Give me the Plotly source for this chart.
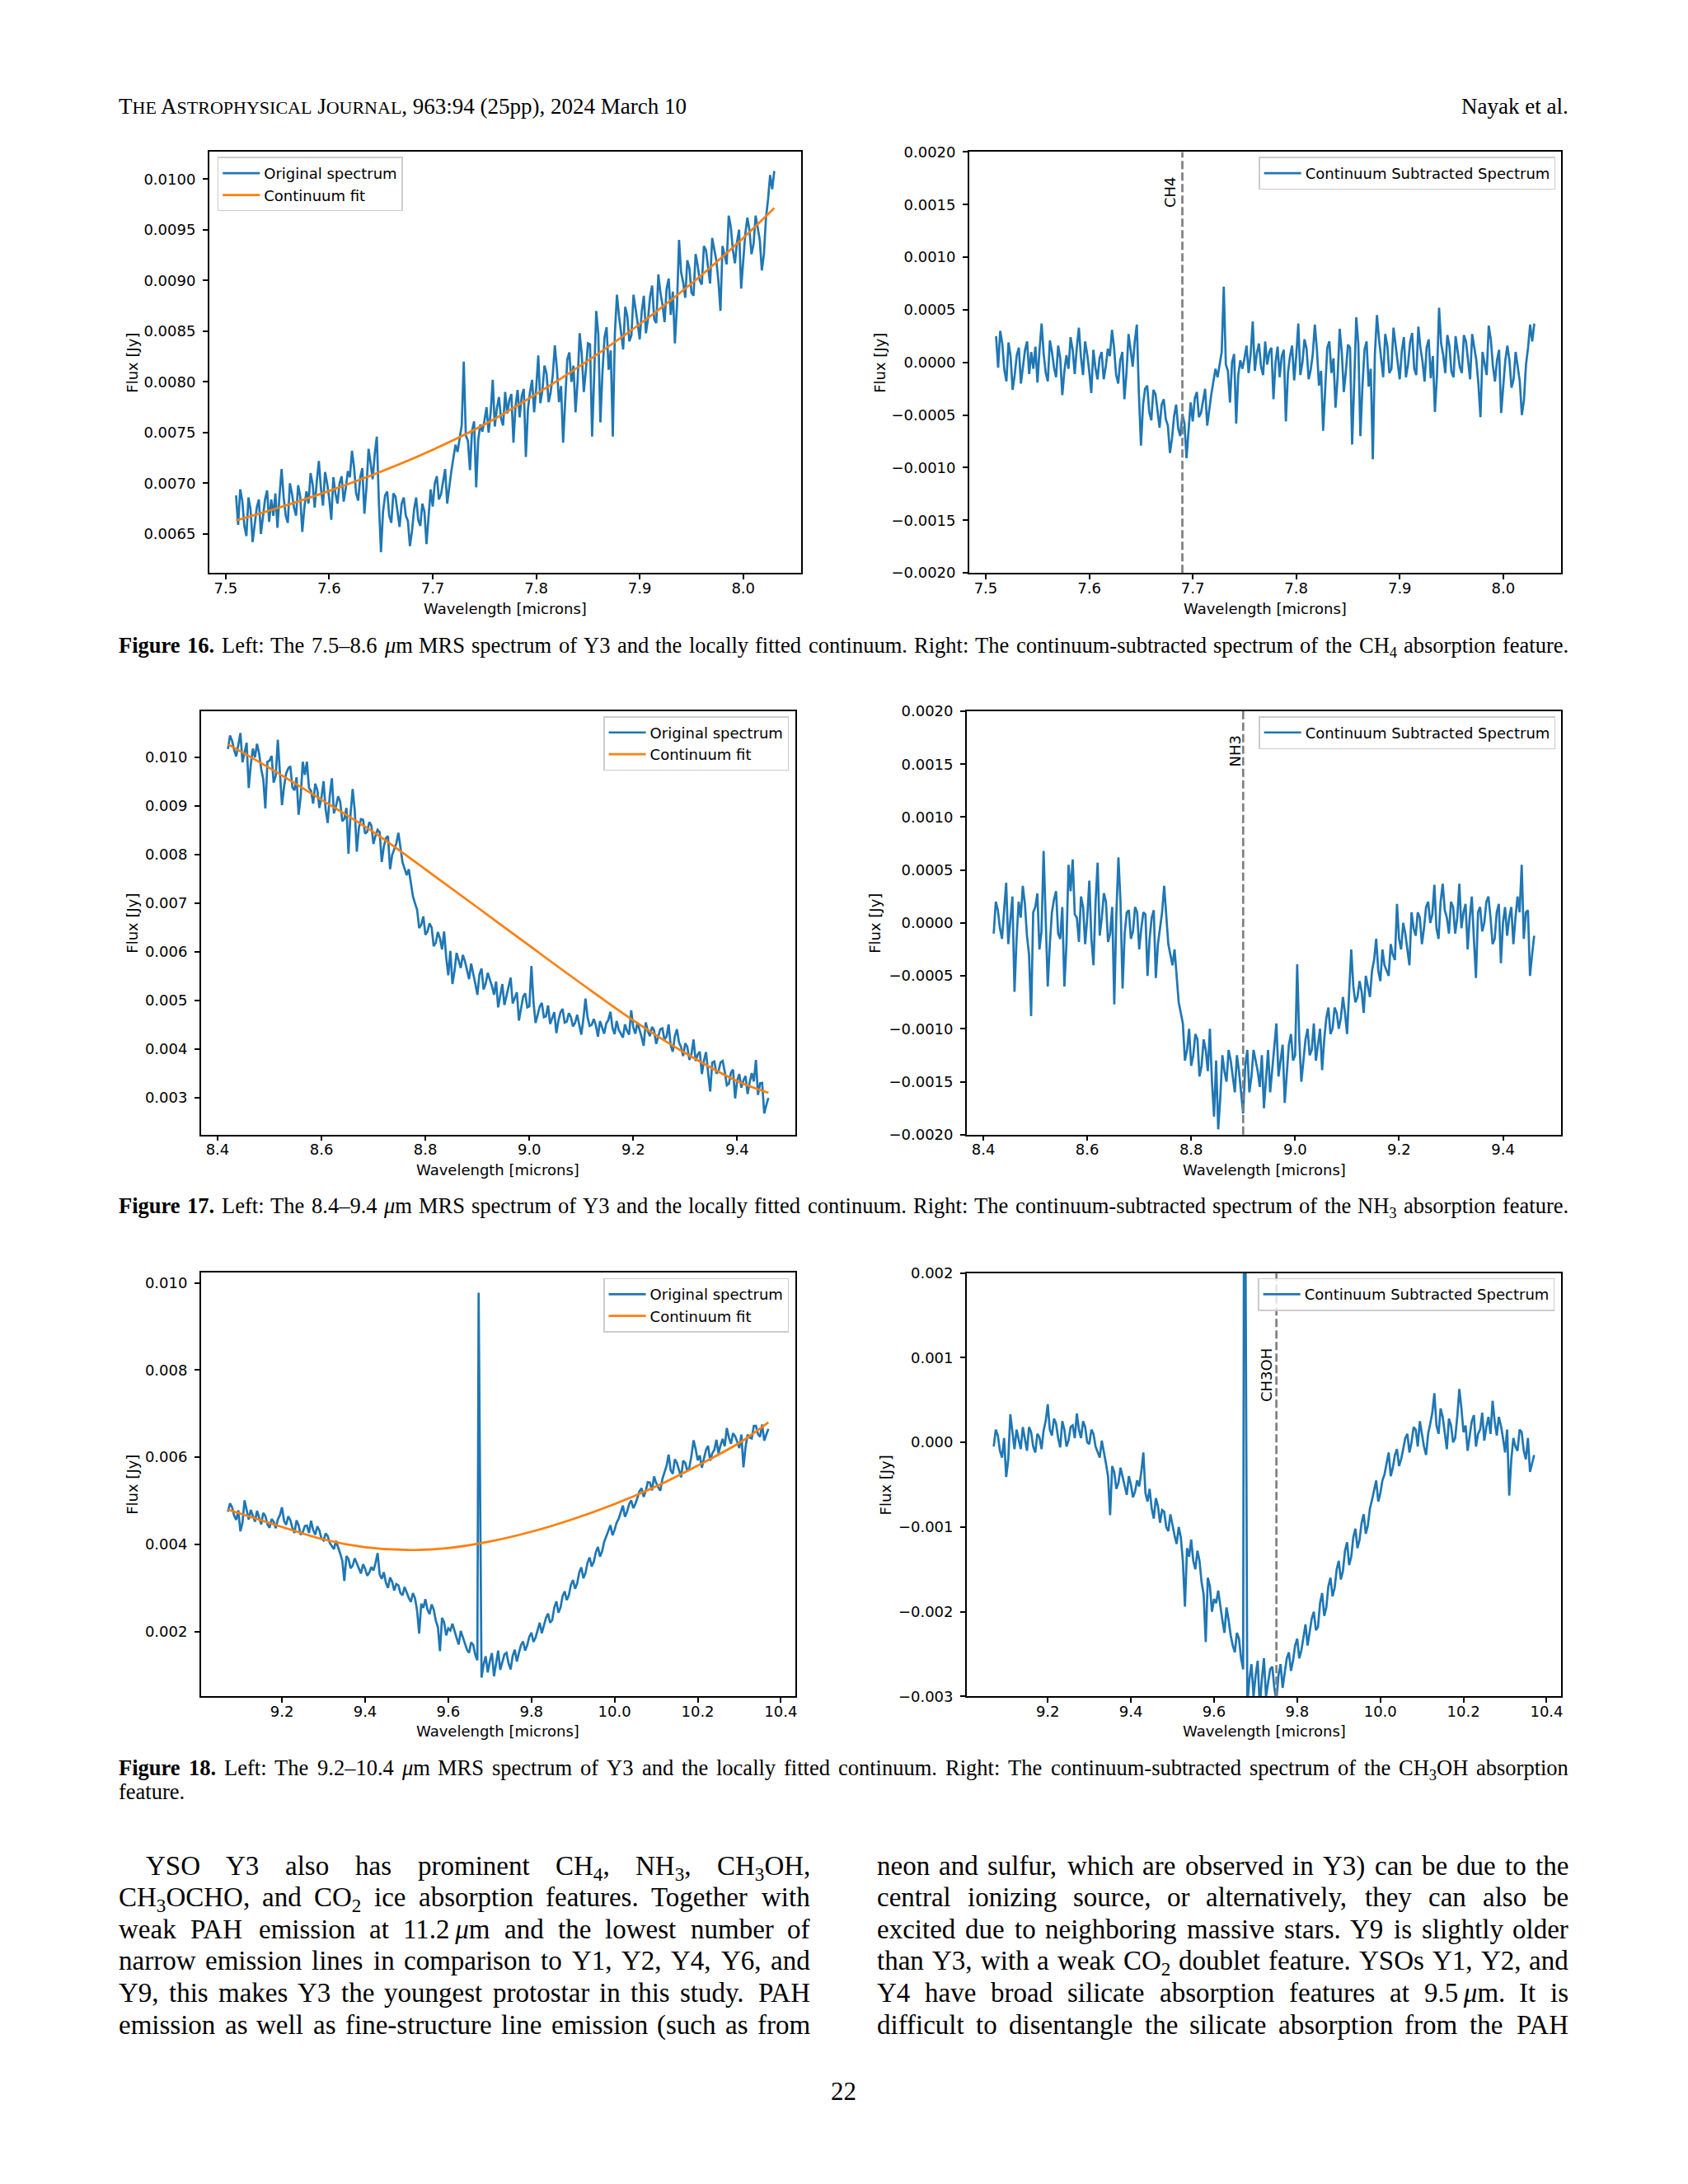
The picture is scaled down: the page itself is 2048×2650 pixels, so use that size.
import plotly.graph_objects as go

# ---------------------------------------------------------------- data
# Figure 16 (CH4 region): wavelength [micron], flux [Jy], continuum-subtracted flux [Jy]
wl16 = [7.510,7.512,7.514,7.516,7.518,7.520,7.522,7.524,7.526,7.528,7.530,7.532,7.534,7.536,7.538,7.540,7.542,7.544,7.546,7.548,
        7.550,7.552,7.554,7.556,7.558,7.560,7.562,7.564,7.566,7.568,7.570,7.572,7.574,7.576,7.578,7.580,7.582,7.584,7.586,7.588,
        7.590,7.592,7.594,7.596,7.598,7.600,7.602,7.604,7.606,7.608,7.610,7.612,7.614,7.616,7.618,7.620,7.622,7.624,7.626,7.628,
        7.630,7.632,7.634,7.636,7.638,7.640,7.642,7.644,7.646,7.648,7.650,7.652,7.654,7.656,7.658,7.660,7.662,7.664,7.666,7.668,
        7.670,7.672,7.674,7.676,7.678,7.680,7.682,7.684,7.686,7.688,7.690,7.692,7.694,7.696,7.698,7.700,7.702,7.704,7.706,7.708,
        7.710,7.712,7.714,7.716,7.718,7.720,7.722,7.724,7.726,7.728,7.730,7.732,7.734,7.736,7.738,7.740,7.742,7.744,7.746,7.748,
        7.750,7.752,7.754,7.756,7.758,7.760,7.762,7.764,7.766,7.768,7.770,7.772,7.774,7.776,7.778,7.780,7.782,7.784,7.786,7.788,
        7.790,7.792,7.794,7.796,7.798,7.800,7.802,7.804,7.806,7.808,7.810,7.812,7.814,7.816,7.818,7.820,7.822,7.824,7.826,7.828,
        7.830,7.832,7.834,7.836,7.838,7.840,7.842,7.844,7.846,7.848,7.850,7.852,7.854,7.856,7.858,7.860,7.862,7.864,7.866,7.868,
        7.870,7.872,7.874,7.876,7.878,7.880,7.882,7.884,7.886,7.888,7.890,7.892,7.894,7.896,7.898,7.900,7.902,7.904,7.906,7.908,
        7.910,7.912,7.914,7.916,7.918,7.920,7.922,7.924,7.926,7.928,7.930,7.932,7.934,7.936,7.938,7.940,7.942,7.944,7.946,7.948,
        7.950,7.952,7.954,7.956,7.958,7.960,7.962,7.964,7.966,7.968,7.970,7.972,7.974,7.976,7.978,7.980,7.982,7.984,7.986,7.988,
        7.990,7.992,7.994,7.996,7.998,8.000,8.002,8.004,8.006,8.008,8.010,8.012,8.014,8.016,8.018,8.020,8.022,8.024,8.026,8.028,
        8.030]
flux16 = [0.00688,0.00659,0.00694,0.00683,0.00658,0.00648,0.00686,0.00674,0.00642,0.00657,0.00676,0.00684,0.00650,0.00667,0.00684,0.00693,0.00662,0.00684,0.00668,0.00690,
          0.00656,0.00688,0.00714,0.00686,0.00668,0.00661,0.00700,0.00690,0.00676,0.00668,0.00698,0.00687,0.00652,0.00676,0.00692,0.00680,0.00710,0.00699,0.00676,0.00702,
          0.00722,0.00695,0.00678,0.00711,0.00700,0.00685,0.00664,0.00706,0.00690,0.00680,0.00700,0.00707,0.00682,0.00695,0.00712,0.00706,0.00732,0.00716,0.00690,0.00683,
          0.00706,0.00715,0.00670,0.00696,0.00734,0.00720,0.00704,0.00729,0.00746,0.00681,0.00632,0.00672,0.00688,0.00692,0.00668,0.00661,0.00690,0.00687,0.00672,0.00657,
          0.00680,0.00686,0.00668,0.00663,0.00638,0.00653,0.00674,0.00686,0.00664,0.00658,0.00680,0.00672,0.00640,0.00666,0.00694,0.00677,0.00700,0.00707,0.00684,0.00689,
          0.00702,0.00714,0.00680,0.00697,0.00712,0.00725,0.00738,0.00731,0.00746,0.00757,0.00820,0.00747,0.00742,0.00713,0.00752,0.00761,0.00696,0.00743,0.00758,0.00751,
          0.00762,0.00775,0.00750,0.00770,0.00802,0.00756,0.00774,0.00785,0.00764,0.00757,0.00790,0.00769,0.00782,0.00788,0.00740,0.00776,0.00792,0.00765,0.00786,0.00793,
          0.00726,0.00773,0.00790,0.00802,0.00770,0.00794,0.00826,0.00779,0.00792,0.00816,0.00808,0.00780,0.00790,0.00807,0.00836,0.00813,0.00780,0.00796,0.00740,0.00787,
          0.00822,0.00829,0.00800,0.00816,0.00770,0.00801,0.00848,0.00827,0.00790,0.00812,0.00838,0.00837,0.00746,0.00806,0.00870,0.00847,0.00760,0.00809,0.00844,0.00854,
          0.00812,0.00831,0.00746,0.00848,0.00886,0.00865,0.00850,0.00832,0.00874,0.00865,0.00840,0.00846,0.00886,0.00873,0.00858,0.00842,0.00870,0.00885,0.00848,0.00862,
          0.00884,0.00895,0.00862,0.00858,0.00906,0.00888,0.00876,0.00859,0.00892,0.00902,0.00866,0.00889,0.00838,0.00875,0.00940,0.00908,0.00898,0.00883,0.00920,0.00912,
          0.00888,0.00885,0.00926,0.00915,0.00900,0.00896,0.00934,0.00930,0.00912,0.00897,0.00942,0.00931,0.00920,0.00900,0.00870,0.00934,0.00924,0.00916,0.00964,0.00953,
          0.00930,0.00917,0.00938,0.00950,0.00892,0.00920,0.00946,0.00962,0.00950,0.00926,0.00936,0.00964,0.00952,0.00940,0.00910,0.00926,0.00962,0.00980,0.01004,0.00990,
          0.01008]
resid16 = [0.00025,-0.00005,0.00030,0.00018,-0.00007,-0.00018,0.00019,0.00006,-0.00026,-0.00012,0.00007,0.00014,-0.00020,-0.00004,0.00012,0.00020,-0.00011,0.00010,-0.00006,0.00015,
           -0.00019,0.00012,0.00037,0.00008,-0.00010,-0.00018,0.00021,0.00010,-0.00005,-0.00014,0.00016,0.00004,-0.00031,-0.00008,0.00007,-0.00006,0.00024,0.00012,-0.00011,0.00014,
           0.00033,0.00005,-0.00012,0.00020,0.00008,-0.00008,-0.00029,0.00012,-0.00005,-0.00016,0.00004,0.00010,-0.00016,-0.00004,0.00013,0.00006,0.00031,0.00014,-0.00012,-0.00020,
           0.00002,0.00010,-0.00035,-0.00010,0.00027,0.00012,-0.00004,0.00020,0.00036,-0.00030,-0.00079,-0.00040,-0.00025,-0.00022,-0.00047,-0.00055,-0.00026,-0.00030,-0.00046,-0.00062,
           -0.00040,-0.00035,-0.00054,-0.00060,-0.00086,-0.00072,-0.00051,-0.00040,-0.00063,-0.00070,-0.00049,-0.00058,-0.00091,-0.00066,-0.00038,-0.00056,-0.00034,-0.00028,-0.00052,-0.00048,
           -0.00036,-0.00025,-0.00060,-0.00044,-0.00030,-0.00018,-0.00006,-0.00014,0.00000,0.00010,0.00072,-0.00002,-0.00008,-0.00038,0.00000,0.00008,-0.00058,-0.00012,0.00002,-0.00006,
           0.00004,0.00016,-0.00010,0.00008,0.00039,-0.00008,0.00009,0.00018,-0.00004,-0.00012,0.00020,-0.00002,0.00010,0.00014,-0.00035,0.00000,0.00015,-0.00014,0.00006,0.00012,
           -0.00056,-0.00010,0.00006,0.00016,-0.00017,0.00006,0.00037,-0.00012,0.00000,0.00022,0.00013,-0.00016,-0.00007,0.00008,0.00036,0.00012,-0.00022,-0.00008,-0.00065,-0.00020,
           0.00014,0.00020,-0.00010,0.00004,-0.00043,-0.00014,0.00032,0.00010,-0.00028,-0.00008,0.00017,0.00014,-0.00078,-0.00020,0.00043,0.00018,-0.00070,-0.00022,0.00012,0.00020,
           -0.00023,-0.00006,-0.00092,0.00008,0.00045,0.00022,0.00006,-0.00014,0.00027,0.00016,-0.00010,-0.00006,0.00033,0.00018,0.00002,-0.00016,0.00011,0.00024,-0.00014,-0.00002,
           0.00019,0.00028,-0.00006,-0.00012,0.00034,0.00014,0.00001,-0.00018,0.00014,0.00022,-0.00015,0.00006,-0.00047,-0.00012,0.00052,0.00018,0.00007,-0.00010,0.00026,0.00016,
           -0.00009,-0.00014,0.00025,0.00012,-0.00004,-0.00010,0.00026,0.00020,0.00001,-0.00016,0.00027,0.00014,0.00002,-0.00020,-0.00052,0.00010,-0.00002,-0.00012,0.00035,0.00022,
           -0.00003,-0.00018,0.00002,0.00012,-0.00048,-0.00022,0.00002,0.00016,0.00002,-0.00024,-0.00016,0.00010,-0.00004,-0.00018,-0.00050,-0.00036,-0.00002,0.00014,0.00036,0.00020,
           0.00037]
wl16_fit = [7.51, 7.55, 7.60, 7.65, 7.70, 7.75, 7.80, 7.85, 7.90, 7.95, 8.00, 8.03]
fit16 = [0.006633, 0.006755, 0.006925, 0.007115, 0.007330, 0.007580,
         0.007880, 0.008210, 0.008570, 0.008970, 0.009420, 0.009715]

# Figure 17 (NH3 region)
wl17 = [8.420,8.424,8.428,8.432,8.436,8.440,8.444,8.448,8.452,8.456,8.460,8.464,8.468,8.472,8.476,8.480,8.484,8.488,8.492,8.496,
        8.500,8.504,8.508,8.512,8.516,8.520,8.524,8.528,8.532,8.536,8.540,8.544,8.548,8.552,8.556,8.560,8.564,8.568,8.572,8.576,
        8.580,8.584,8.588,8.592,8.596,8.600,8.604,8.608,8.612,8.616,8.620,8.624,8.628,8.632,8.636,8.640,8.644,8.648,8.652,8.656,
        8.660,8.664,8.668,8.672,8.676,8.680,8.684,8.688,8.692,8.696,8.700,8.704,8.708,8.712,8.716,8.720,8.724,8.728,8.732,8.736,
        8.740,8.744,8.748,8.752,8.756,8.760,8.764,8.768,8.772,8.776,8.780,8.784,8.788,8.792,8.796,8.800,8.804,8.808,8.812,8.816,
        8.820,8.824,8.828,8.832,8.836,8.840,8.844,8.848,8.852,8.856,8.860,8.864,8.868,8.872,8.876,8.880,8.884,8.888,8.892,8.896,
        8.900,8.904,8.908,8.912,8.916,8.920,8.924,8.928,8.932,8.936,8.940,8.944,8.948,8.952,8.956,8.960,8.964,8.968,8.972,8.976,
        8.980,8.984,8.988,8.992,8.996,9.000,9.004,9.008,9.012,9.016,9.020,9.024,9.028,9.032,9.036,9.040,9.044,9.048,9.052,9.056,
        9.060,9.064,9.068,9.072,9.076,9.080,9.084,9.088,9.092,9.096,9.100,9.104,9.108,9.112,9.116,9.120,9.124,9.128,9.132,9.136,
        9.140,9.144,9.148,9.152,9.156,9.160,9.164,9.168,9.172,9.176,9.180,9.184,9.188,9.192,9.196,9.200,9.204,9.208,9.212,9.216,
        9.220,9.224,9.228,9.232,9.236,9.240,9.244,9.248,9.252,9.256,9.260,9.264,9.268,9.272,9.276,9.280,9.284,9.288,9.292,9.296,
        9.300,9.304,9.308,9.312,9.316,9.320,9.324,9.328,9.332,9.336,9.340,9.344,9.348,9.352,9.356,9.360,9.364,9.368,9.372,9.376,
        9.380,9.384,9.388,9.392,9.396,9.400,9.404,9.408,9.412,9.416,9.420,9.424,9.428,9.432,9.436,9.440,9.444,9.448,9.452,9.456,
        9.460]
flux17 = [0.01017,0.01045,0.01034,0.01015,0.01002,0.01030,0.01050,0.00990,0.01012,0.01030,0.00937,0.00985,0.01018,0.01000,0.01028,0.01008,0.00976,0.00955,0.00895,0.00991,
          0.00993,0.01003,0.00948,0.00962,0.01036,0.00977,0.00902,0.00940,0.00967,0.00977,0.00982,0.00939,0.00932,0.00959,0.00882,0.00919,0.00991,0.00964,0.00991,0.00937,
          0.00931,0.00905,0.00946,0.00933,0.00896,0.00918,0.00951,0.00893,0.00865,0.00922,0.00957,0.00885,0.00900,0.00920,0.00909,0.00869,0.00874,0.00896,0.00802,0.00884,
          0.00935,0.00891,0.00806,0.00855,0.00873,0.00872,0.00843,0.00847,0.00867,0.00860,0.00822,0.00839,0.00851,0.00846,0.00785,0.00817,0.00834,0.00838,0.00770,0.00799,
          0.00811,0.00823,0.00845,0.00812,0.00784,0.00771,0.00758,0.00770,0.00742,0.00714,0.00700,0.00687,0.00649,0.00656,0.00673,0.00635,0.00642,0.00659,0.00650,0.00612,
          0.00619,0.00641,0.00628,0.00605,0.00642,0.00589,0.00552,0.00602,0.00534,0.00561,0.00598,0.00580,0.00567,0.00594,0.00581,0.00563,0.00544,0.00576,0.00558,0.00535,
          0.00512,0.00554,0.00566,0.00523,0.00535,0.00557,0.00543,0.00530,0.00512,0.00539,0.00486,0.00508,0.00534,0.00491,0.00508,0.00530,0.00547,0.00494,0.00505,0.00517,
          0.00459,0.00486,0.00508,0.00515,0.00486,0.00488,0.00571,0.00497,0.00454,0.00471,0.00488,0.00495,0.00466,0.00468,0.00490,0.00452,0.00464,0.00476,0.00433,0.00459,
          0.00476,0.00483,0.00455,0.00457,0.00474,0.00466,0.00447,0.00454,0.00471,0.00453,0.00430,0.00462,0.00504,0.00466,0.00448,0.00450,0.00462,0.00449,0.00426,0.00458,
          0.00445,0.00432,0.00453,0.00460,0.00477,0.00444,0.00431,0.00458,0.00440,0.00432,0.00424,0.00451,0.00438,0.00430,0.00480,0.00445,0.00432,0.00455,0.00442,0.00425,
          0.00407,0.00455,0.00437,0.00427,0.00446,0.00439,0.00411,0.00424,0.00441,0.00443,0.00420,0.00426,0.00451,0.00408,0.00395,0.00427,0.00441,0.00414,0.00404,0.00386,
          0.00412,0.00405,0.00378,0.00391,0.00420,0.00376,0.00389,0.00395,0.00349,0.00377,0.00394,0.00352,0.00313,0.00373,0.00375,0.00350,0.00355,0.00373,0.00376,0.00354,
          0.00326,0.00329,0.00352,0.00358,0.00299,0.00336,0.00349,0.00321,0.00336,0.00345,0.00308,0.00332,0.00351,0.00334,0.00378,0.00306,0.00330,0.00331,0.00268,0.00285,
          0.00300]
resid17 = [-0.00010,0.00020,0.00012,-0.00005,-0.00015,0.00015,0.00038,-0.00020,0.00005,0.00025,-0.00065,-0.00015,0.00020,0.00005,0.00035,0.00018,-0.00012,-0.00030,-0.00088,0.00010,
           0.00015,0.00028,-0.00025,-0.00008,0.00068,0.00012,-0.00060,-0.00020,0.00010,0.00022,0.00030,-0.00010,-0.00015,0.00015,-0.00060,-0.00020,0.00055,0.00030,0.00060,0.00008,
           0.00005,-0.00018,0.00025,0.00015,-0.00020,0.00005,0.00040,-0.00015,-0.00040,0.00020,0.00057,-0.00012,0.00005,0.00028,0.00020,-0.00018,-0.00010,0.00015,-0.00077,0.00008,
           0.00062,0.00020,-0.00062,-0.00010,0.00010,0.00012,-0.00015,-0.00008,0.00015,0.00010,-0.00025,-0.00005,0.00010,0.00008,-0.00050,-0.00015,0.00005,0.00012,-0.00052,-0.00020,
           -0.00005,0.00010,0.00035,0.00005,-0.00020,-0.00030,-0.00040,-0.00025,-0.00050,-0.00075,-0.00085,-0.00095,-0.00130,-0.00120,-0.00100,-0.00135,-0.00125,-0.00105,-0.00110,-0.00145,
           -0.00135,-0.00110,-0.00120,-0.00140,-0.00100,-0.00150,-0.00183,-0.00130,-0.00195,-0.00165,-0.00125,-0.00140,-0.00150,-0.00120,-0.00130,-0.00145,-0.00160,-0.00125,-0.00140,-0.00160,
           -0.00180,-0.00135,-0.00120,-0.00160,-0.00145,-0.00120,-0.00130,-0.00140,-0.00155,-0.00125,-0.00175,-0.00150,-0.00120,-0.00160,-0.00140,-0.00115,-0.00095,-0.00145,-0.00130,-0.00115,
           -0.00170,-0.00140,-0.00115,-0.00105,-0.00130,-0.00125,-0.00039,-0.00110,-0.00150,-0.00130,-0.00110,-0.00100,-0.00125,-0.00120,-0.00095,-0.00130,-0.00115,-0.00100,-0.00139,-0.00110,
           -0.00090,-0.00080,-0.00105,-0.00100,-0.00080,-0.00085,-0.00100,-0.00090,-0.00070,-0.00085,-0.00105,-0.00070,-0.00025,-0.00060,-0.00075,-0.00070,-0.00055,-0.00065,-0.00085,-0.00050,
           -0.00060,-0.00070,-0.00045,-0.00035,-0.00015,-0.00045,-0.00055,-0.00025,-0.00040,-0.00045,-0.00050,-0.00020,-0.00030,-0.00035,0.00018,-0.00015,-0.00025,0.00000,-0.00010,-0.00025,
           -0.00040,0.00010,-0.00005,-0.00012,0.00010,0.00005,-0.00020,-0.00005,0.00015,0.00020,0.00000,0.00008,0.00036,-0.00005,-0.00015,0.00020,0.00037,0.00012,0.00005,-0.00010,
           0.00020,0.00015,-0.00010,0.00005,0.00037,-0.00005,0.00010,0.00018,-0.00025,0.00005,0.00025,-0.00015,-0.00052,0.00010,0.00015,-0.00008,0.00000,0.00020,0.00025,0.00005,
           -0.00020,-0.00015,0.00010,0.00018,-0.00038,0.00000,0.00015,-0.00012,0.00005,0.00015,-0.00020,0.00005,0.00025,0.00010,0.00055,-0.00015,0.00010,0.00012,-0.00050,-0.00030,
           -0.00012]
wl17_fit = [8.42, 8.50, 8.60, 8.70, 8.80, 8.90, 9.00, 9.10, 9.20, 9.30, 9.40, 9.46]
fit17 = [0.010269, 0.009782, 0.009130, 0.008465, 0.007697, 0.006916,
         0.006129, 0.005349, 0.004594, 0.003921, 0.003345, 0.003103]

# Figure 18 (CH3OH region)
wl18 = [9.070,9.075,9.080,9.085,9.090,9.095,9.100,9.105,9.110,9.115,9.120,9.125,9.130,9.135,9.140,9.145,9.150,9.155,9.160,9.165,
        9.170,9.175,9.180,9.185,9.190,9.195,9.200,9.205,9.210,9.215,9.220,9.225,9.230,9.235,9.240,9.245,9.250,9.255,9.260,9.265,
        9.270,9.275,9.280,9.285,9.290,9.295,9.300,9.305,9.310,9.315,9.320,9.325,9.330,9.335,9.340,9.345,9.350,9.355,9.360,9.365,
        9.370,9.375,9.380,9.385,9.390,9.395,9.400,9.405,9.410,9.415,9.420,9.425,9.430,9.435,9.440,9.445,9.450,9.455,9.460,9.465,
        9.470,9.475,9.480,9.485,9.490,9.495,9.500,9.505,9.510,9.515,9.520,9.525,9.530,9.535,9.540,9.545,9.550,9.555,9.560,9.565,
        9.570,9.575,9.580,9.585,9.590,9.595,9.600,9.605,9.610,9.615,9.620,9.625,9.630,9.635,9.640,9.645,9.650,9.655,9.660,9.665,
        9.670,9.673,
        9.680,9.685,9.690,9.695,9.700,9.705,9.710,9.715,9.720,9.725,9.730,9.735,9.740,9.745,9.750,9.755,9.760,9.765,9.770,9.775,
        9.780,9.785,9.790,9.795,9.800,9.805,9.810,9.815,9.820,9.825,9.830,9.835,9.840,9.845,9.850,9.855,9.860,9.865,9.870,9.875,
        9.880,9.885,9.890,9.895,9.900,9.905,9.910,9.915,9.920,9.925,9.930,9.935,9.940,9.945,9.950,9.955,9.960,9.965,9.970,9.975,
        9.980,9.985,9.990,9.995,10.000,10.005,10.010,10.015,10.020,10.025,10.030,10.035,10.040,10.045,10.050,10.055,10.060,10.065,10.070,10.075,
        10.080,10.085,10.090,10.095,10.100,10.105,10.110,10.115,10.120,10.125,10.130,10.135,10.140,10.145,10.150,10.155,10.160,10.165,10.170,10.175,
        10.180,10.185,10.190,10.195,10.200,10.205,10.210,10.215,10.220,10.225,10.230,10.235,10.240,10.245,10.250,10.255,10.260,10.265,10.270,10.275,
        10.280,10.285,10.290,10.295,10.300,10.305,10.310,10.315,10.320,10.325,10.330,10.335,10.340,10.345,10.350,10.355,10.360,10.365,10.370]
flux18 = [0.00475,0.00494,0.00485,0.00466,0.00456,0.00478,0.00430,0.00450,0.00501,0.00477,0.00457,0.00479,0.00467,0.00452,0.00477,0.00462,0.00446,0.00472,0.00465,0.00446,
          0.00438,0.00458,0.00452,0.00437,0.00457,0.00467,0.00485,0.00454,0.00445,0.00464,0.00456,0.00438,0.00426,0.00455,0.00444,0.00422,0.00428,0.00442,0.00443,0.00426,
          0.00454,0.00433,0.00422,0.00441,0.00432,0.00413,0.00409,0.00425,0.00419,0.00403,0.00396,0.00389,0.00408,0.00395,0.00379,0.00363,0.00316,0.00373,0.00366,0.00345,
          0.00351,0.00368,0.00357,0.00344,0.00333,0.00354,0.00344,0.00328,0.00335,0.00348,0.00340,0.00357,0.00380,0.00331,0.00321,0.00336,0.00312,0.00300,0.00324,0.00314,
          0.00294,0.00309,0.00306,0.00288,0.00283,0.00302,0.00289,0.00277,0.00268,0.00288,0.00276,0.00248,0.00195,0.00264,0.00254,0.00274,0.00250,0.00240,0.00262,0.00250,
          0.00225,0.00210,0.00155,0.00231,0.00221,0.00191,0.00207,0.00202,0.00218,0.00199,0.00185,0.00170,0.00201,0.00187,0.00170,0.00158,0.00151,0.00175,0.00169,0.00146,
          0.00134,0.00978,
          0.00094,0.00124,0.00143,0.00106,0.00132,0.00150,0.00097,0.00130,0.00156,0.00112,0.00129,0.00147,0.00151,0.00127,0.00113,0.00144,0.00158,0.00131,0.00151,0.00169,
          0.00177,0.00156,0.00169,0.00188,0.00197,0.00176,0.00186,0.00206,0.00220,0.00196,0.00213,0.00231,0.00241,0.00220,0.00226,0.00255,0.00269,0.00243,0.00255,0.00281,
          0.00292,0.00272,0.00283,0.00307,0.00318,0.00298,0.00310,0.00335,0.00347,0.00322,0.00334,0.00358,0.00370,0.00349,0.00360,0.00382,0.00394,0.00372,0.00384,0.00406,
          0.00418,0.00432,0.00444,0.00421,0.00433,0.00450,0.00459,0.00474,0.00489,0.00463,0.00475,0.00492,0.00501,0.00483,0.00493,0.00507,0.00522,0.00529,0.00509,0.00523,
          0.00543,0.00542,0.00524,0.00556,0.00541,0.00531,0.00523,0.00550,0.00565,0.00580,0.00606,0.00570,0.00562,0.00595,0.00587,0.00570,0.00554,0.00592,0.00587,0.00569,
          0.00577,0.00604,0.00639,0.00619,0.00593,0.00604,0.00576,0.00597,0.00617,0.00626,0.00592,0.00609,0.00617,0.00640,0.00609,0.00628,0.00642,0.00625,0.00667,0.00645,
          0.00631,0.00655,0.00648,0.00636,0.00621,0.00652,0.00577,0.00623,0.00652,0.00645,0.00643,0.00672,0.00672,0.00653,0.00647,0.00675,0.00638,0.00652,0.00665]
resid18 = [-0.00005,0.00015,0.00008,-0.00010,-0.00018,0.00005,-0.00041,-0.00020,0.00033,0.00010,-0.00008,0.00015,0.00005,-0.00008,0.00018,0.00005,-0.00010,0.00018,0.00012,-0.00005,
           -0.00012,0.00010,0.00006,-0.00008,0.00014,0.00025,0.00045,0.00015,0.00008,0.00028,0.00022,0.00005,-0.00006,0.00025,0.00015,-0.00005,0.00002,0.00018,0.00020,0.00005,
           0.00034,0.00015,0.00005,0.00025,0.00018,0.00000,-0.00002,0.00015,0.00010,-0.00005,-0.00012,-0.00018,0.00002,-0.00010,-0.00025,-0.00040,-0.00086,-0.00028,-0.00035,-0.00055,
           -0.00048,-0.00030,-0.00040,-0.00052,-0.00062,-0.00040,-0.00050,-0.00065,-0.00058,-0.00045,-0.00052,-0.00035,-0.00012,-0.00060,-0.00070,-0.00055,-0.00078,-0.00090,-0.00066,-0.00075,
           -0.00095,-0.00080,-0.00082,-0.00100,-0.00105,-0.00085,-0.00098,-0.00110,-0.00120,-0.00100,-0.00112,-0.00140,-0.00194,-0.00125,-0.00135,-0.00115,-0.00140,-0.00150,-0.00128,-0.00140,
           -0.00165,-0.00180,-0.00236,-0.00160,-0.00170,-0.00200,-0.00185,-0.00190,-0.00175,-0.00195,-0.00210,-0.00225,-0.00195,-0.00210,-0.00228,-0.00240,-0.00248,-0.00225,-0.00232,-0.00255,
           -0.00268,0.00577,
           -0.00310,-0.00280,-0.00262,-0.00300,-0.00275,-0.00258,-0.00312,-0.00280,-0.00255,-0.00300,-0.00285,-0.00268,-0.00265,-0.00290,-0.00305,-0.00275,-0.00262,-0.00290,-0.00272,-0.00255,
           -0.00248,-0.00270,-0.00258,-0.00240,-0.00232,-0.00255,-0.00246,-0.00228,-0.00215,-0.00240,-0.00225,-0.00208,-0.00200,-0.00222,-0.00218,-0.00190,-0.00178,-0.00205,-0.00195,-0.00170,
           -0.00160,-0.00182,-0.00172,-0.00150,-0.00140,-0.00162,-0.00152,-0.00128,-0.00118,-0.00145,-0.00135,-0.00112,-0.00102,-0.00125,-0.00115,-0.00095,-0.00085,-0.00108,-0.00098,-0.00078,
           -0.00068,-0.00055,-0.00045,-0.00070,-0.00060,-0.00045,-0.00038,-0.00025,-0.00012,-0.00040,-0.00030,-0.00015,-0.00008,-0.00028,-0.00020,-0.00008,0.00005,0.00010,-0.00012,0.00000,
           0.00018,0.00015,-0.00005,0.00025,0.00008,-0.00005,-0.00015,0.00010,0.00022,0.00035,0.00058,0.00020,0.00010,0.00040,0.00030,0.00010,-0.00008,0.00028,0.00020,0.00000,
           0.00005,0.00030,0.00063,0.00040,0.00012,0.00020,-0.00010,0.00008,0.00025,0.00032,-0.00005,0.00010,0.00015,0.00035,0.00002,0.00018,0.00030,0.00010,0.00049,0.00025,
           0.00008,0.00030,0.00020,0.00005,-0.00012,0.00015,-0.00063,-0.00020,0.00005,-0.00005,-0.00010,0.00015,0.00012,-0.00010,-0.00020,0.00005,-0.00035,-0.00025,-0.00015]
wl18_fit = [9.07, 9.20, 9.30, 9.40, 9.50, 9.60, 9.70, 9.80, 9.90, 10.00, 10.10, 10.20, 10.30, 10.37]
fit18 = [0.004796, 0.004400, 0.004110, 0.003935, 0.003870, 0.003915, 0.004065,
         0.004290, 0.004580, 0.004925, 0.005330, 0.005810, 0.006330, 0.006800]

# Ice features marked in the right-hand panels
feature_names = ["CH4", "NH3", "CH3OH"]
feature_wl = [7.69, 8.90, 9.75]

# Tick values and labels
x16_ticks = [7.5, 7.6, 7.7, 7.8, 7.9, 8.0]
x16_labels = ["7.5", "7.6", "7.7", "7.8", "7.9", "8.0"]
x17_ticks = [8.4, 8.6, 8.8, 9.0, 9.2, 9.4]
x17_labels = ["8.4", "8.6", "8.8", "9.0", "9.2", "9.4"]
x18_ticks = [9.2, 9.4, 9.6, 9.8, 10.0, 10.2, 10.4]
x18_labels = ["9.2", "9.4", "9.6", "9.8", "10.0", "10.2", "10.4"]
y16l_ticks = [0.0065, 0.0070, 0.0075, 0.0080, 0.0085, 0.0090, 0.0095, 0.0100]
y16l_labels = ["0.0065", "0.0070", "0.0075", "0.0080", "0.0085", "0.0090", "0.0095", "0.0100"]
yres_ticks = [-0.0020, -0.0015, -0.0010, -0.0005, 0.0, 0.0005, 0.0010, 0.0015, 0.0020]
yres_labels = ["\u22120.0020", "\u22120.0015", "\u22120.0010", "\u22120.0005", "0.0000",
               "0.0005", "0.0010", "0.0015", "0.0020"]
y17l_ticks = [0.003, 0.004, 0.005, 0.006, 0.007, 0.008, 0.009, 0.010]
y17l_labels = ["0.003", "0.004", "0.005", "0.006", "0.007", "0.008", "0.009", "0.010"]
y18l_ticks = [0.002, 0.004, 0.006, 0.008, 0.010]
y18l_labels = ["0.002", "0.004", "0.006", "0.008", "0.010"]
y18r_ticks = [-0.003, -0.002, -0.001, 0.0, 0.001, 0.002]
y18r_labels = ["\u22120.003", "\u22120.002", "\u22120.001", "0.000", "0.001", "0.002"]

# ---------------------------------------------------------------- layout helpers
W, H = 2048, 2650
BLUE, ORANGE, GRAY = "#1f77b4", "#ff7f0e", "#808080"
AXFONT = dict(family="DejaVu Sans", size=18, color="black")
SERIF = "Liberation Serif"
LW = 2.7


def fx(x):
    return x / W


def fy(y):
    # page y (pixels from top) -> paper fraction, with a small vertical calibration
    return 1 - ((y - 9.4) / 0.99272) / H


panels = [
    dict(x0=254, x1=973, y0=183, y1=694, xr=[7.484, 8.056], yr=[0.006116, 0.010267],
         xt=x16_ticks, xl=x16_labels, yt=y16l_ticks, yl=y16l_labels, fluxx=161, wly=737),
    dict(x0=1177, x1=1896, y0=183, y1=694, xr=[7.484, 8.056], yr=[-0.002, 0.002],
         xt=x16_ticks, xl=x16_labels, yt=yres_ticks, yl=yres_labels, fluxx=1069, wly=737),
    dict(x0=244, x1=966, y0=862, y1=1376, xr=[8.368, 9.512], yr=[0.002245, 0.010947],
         xt=x17_ticks, xl=x17_labels, yt=y17l_ticks, yl=y17l_labels, fluxx=161, wly=1419),
    dict(x0=1174, x1=1896, y0=862, y1=1376, xr=[8.368, 9.512], yr=[-0.002, 0.002],
         xt=x17_ticks, xl=x17_labels, yt=yres_ticks, yl=yres_labels, fluxx=1063, wly=1419),
    dict(x0=244, x1=966, y0=1543, y1=2058, xr=[9.005, 10.435], yr=[0.00051, 0.01025],
         xt=x18_ticks, xl=x18_labels, yt=y18l_ticks, yl=y18l_labels, fluxx=161, wly=2100),
    dict(x0=1174, x1=1896, y0=1544, y1=2058, xr=[9.005, 10.435], yr=[-0.003, 0.002],
         xt=x18_ticks, xl=x18_labels, yt=y18r_ticks, yl=y18r_labels, fluxx=1075, wly=2100),
]

fig = go.Figure()
layout = dict(width=W, height=H, autosize=False,
              margin=dict(l=0, r=0, t=0, b=0, pad=0),
              paper_bgcolor="white", plot_bgcolor="white", showlegend=True)
anns = []
shapes = []

for i, p in enumerate(panels, 1):
    s = "" if i == 1 else str(i)
    common = dict(showline=True, linecolor="black", linewidth=1.5, mirror=True,
                  ticks="outside", ticklen=6, tickwidth=1.5, tickcolor="black",
                  showgrid=False, zeroline=False, tickfont=AXFONT, tickmode="array")
    layout["xaxis" + s] = dict(domain=[fx(p["x0"]), fx(p["x1"])], range=p["xr"],
                               anchor="y" + s, tickvals=p["xt"], ticktext=p["xl"],
                               ticklabelstandoff=-5, **common)
    layout["yaxis" + s] = dict(domain=[fy(p["y1"]), fy(p["y0"])], range=p["yr"],
                               anchor="x" + s, tickvals=p["yt"], ticktext=p["yl"],
                               ticklabelstandoff=5, **common)
    anns.append(dict(text="Flux [Jy]", xref="paper", yref="paper", x=fx(p["fluxx"]),
                     y=fy((p["y0"] + p["y1"]) / 2), textangle=-90, showarrow=False,
                     font=AXFONT, xanchor="center", yanchor="middle"))
    anns.append(dict(text="Wavelength [microns]", xref="paper", yref="paper",
                     x=fx((p["x0"] + p["x1"]) / 2), y=fy(p["wly"]), showarrow=False,
                     font=AXFONT, xanchor="center", yanchor="middle"))

# spectra
left_sets = [(wl16, flux16, wl16_fit, fit16), (wl17, flux17, wl17_fit, fit17),
             (wl18, flux18, wl18_fit, fit18)]
right_sets = [(wl16, resid16), (wl17, resid17), (wl18, resid18)]
for k in range(3):
    li, ri = 2 * k + 1, 2 * k + 2
    ls = "" if li == 1 else str(li)
    rs = str(ri)
    wl, fl, wlf, ff = left_sets[k]
    fig.add_trace(go.Scatter(x=wl, y=fl, mode="lines", name="Original spectrum",
                             line=dict(color=BLUE, width=LW), xaxis="x" + ls, yaxis="y" + ls,
                             legend="legend" + ls))
    fig.add_trace(go.Scatter(x=wlf, y=ff, mode="lines", name="Continuum fit",
                             line=dict(color=ORANGE, width=LW, shape="spline"),
                             xaxis="x" + ls, yaxis="y" + ls, legend="legend" + ls))
    wr, rr = right_sets[k]
    fig.add_trace(go.Scatter(x=wr, y=rr, mode="lines", name="Continuum Subtracted Spectrum",
                             line=dict(color=BLUE, width=LW), xaxis="x" + rs, yaxis="y" + rs,
                             legend="legend" + rs))
    shapes.append(dict(type="line", xref="x" + rs, yref="y" + rs + " domain",
                       x0=feature_wl[k], x1=feature_wl[k], y0=0, y1=1,
                       line=dict(color=GRAY, width=LW, dash="10px,4px"), layer="above"))

# feature labels (rotated)
label_pos = [(1421, 232), (1499, 911), (1538, 1668)]
for name, (lx, ly) in zip(feature_names, label_pos):
    anns.append(dict(text=name, xref="paper", yref="paper", x=fx(lx), y=fy(ly),
                     textangle=-90, showarrow=False, font=AXFONT,
                     xanchor="center", yanchor="middle"))

# legends
leg_common = dict(bgcolor="rgba(255,255,255,0.8)", bordercolor="#cccccc", borderwidth=1.5,
                  font=AXFONT, tracegroupgap=0, itemwidth=45, xref="paper", yref="paper")
leg_pos = [(264, 189, "left"), (1889, 189, "right"), (958, 868, "right"),
           (1889, 868, "right"), (958, 1550, "right"), (1888, 1550, "right")]
for i, (lx, ly, anc) in enumerate(leg_pos, 1):
    key = "legend" if i == 1 else "legend%d" % i
    layout[key] = dict(x=fx(lx), y=fy(ly), xanchor=anc, yanchor="top", **leg_common)

# ---------------------------------------------------------------- page text
TR = {' ': 250, '!': 333, '(': 333, ')': 333, ',': 250, '-': 333, '.': 250, ':': 278, ';': 278,
      'A': 722, 'B': 667, 'C': 667, 'D': 722, 'E': 611, 'F': 556, 'G': 722, 'H': 722, 'I': 333,
      'J': 389, 'K': 722, 'L': 611, 'M': 889, 'N': 722, 'O': 722, 'P': 556, 'Q': 722, 'R': 667,
      'S': 556, 'T': 611, 'U': 722, 'V': 722, 'W': 944, 'X': 722, 'Y': 722, 'Z': 611,
      'a': 444, 'b': 500, 'c': 444, 'd': 500, 'e': 444, 'f': 333, 'g': 500, 'h': 500, 'i': 278,
      'j': 278, 'k': 500, 'l': 278, 'm': 778, 'n': 500, 'o': 500, 'p': 500, 'q': 500, 'r': 333,
      's': 389, 't': 278, 'u': 500, 'v': 500, 'w': 722, 'x': 500, 'y': 500, 'z': 444,
      '\u2013': 500, '\u03bc': 500, '\u2009': 170}
for d in "0123456789":
    TR[d] = 500
TB = dict(TR)
TB.update({'F': 611, 'i': 278, 'g': 500, 'u': 556, 'r': 444, 'e': 444})


def word_width(word, size, bold=False):
    total, sub, i = 0.0, False, 0
    while i < len(word):
        c = word[i]
        if c == '<':
            j = word.index('>', i)
            tag = word[i + 1:j]
            if tag == 'sub':
                sub = True
            elif tag == '/sub':
                sub = False
            i = j + 1
            continue
        w = (TB if bold else TR).get(c, 500)
        total += w * (0.7 if sub else 1.0)
        i += 1
    return total * size / 1000.0


def text_line(words, x0, x1, yc, size, justify=True, indent=0.0, nbold=0):
    top = yc - 0.56 * size
    widths = [word_width(w, size, k < nbold) for k, w in enumerate(words)]
    n = len(words)
    if justify and n > 1:
        gap = (x1 - x0 - indent - sum(widths)) / (n - 1)
    else:
        gap = 0.25 * size
    x = x0 + indent
    for k, w in enumerate(words):
        base = dict(text=w, xref="paper", yref="paper", y=fy(top), yanchor="top",
                    showarrow=False, borderpad=0, borderwidth=0,
                    font=dict(family=SERIF, size=size, color="black",
                              weight="bold" if k < nbold else "normal"))
        if justify and n > 1 and k == n - 1:
            base.update(x=fx(x1), xanchor="right")
        else:
            base.update(x=fx(x), xanchor="left")
        anns.append(base)
        x += widths[k] + gap


# running head
SC = '<span style="font-size:22px">%s</span>'
head = "T" + SC % "HE" + " A" + SC % "STROPHYSICAL" + " J" + SC % "OURNAL" + \
       ", 963:94 (25pp), 2024 March 10"
anns.append(dict(text=head, xref="paper", yref="paper", x=fx(144), y=fy(128 - 0.56 * 27),
                 xanchor="left", yanchor="top", showarrow=False, borderpad=0, borderwidth=0,
                 font=dict(family=SERIF, size=27, color="black")))
anns.append(dict(text="Nayak et al.", xref="paper", yref="paper", x=fx(1905),
                 y=fy(128 - 0.56 * 27), xanchor="right", yanchor="top", showarrow=False,
                 borderpad=0, borderwidth=0, font=dict(family=SERIF, size=27, color="black")))

CAP = 26.5
L, R = 144, 1905
cap16 = ["Figure", "16.", "Left:", "The", "7.5\u20138.6", "<i>\u03bc</i>m", "MRS",
         "spectrum", "of", "Y3", "and", "the", "locally", "fitted", "continuum.", "Right:", "The",
         "continuum-subtracted", "spectrum", "of", "the", "CH<sub>4</sub>", "absorption", "feature."]
cap17 = ["Figure", "17.", "Left:", "The", "8.4\u20139.4", "<i>\u03bc</i>m", "MRS",
         "spectrum", "of", "Y3", "and", "the", "locally", "fitted", "continuum.", "Right:", "The",
         "continuum-subtracted", "spectrum", "of", "the", "NH<sub>3</sub>", "absorption", "feature."]
cap18a = ["Figure", "18.", "Left:", "The", "9.2\u201310.4", "<i>\u03bc</i>m", "MRS",
          "spectrum", "of", "Y3", "and", "the", "locally", "fitted", "continuum.", "Right:", "The",
          "continuum-subtracted", "spectrum", "of", "the", "CH<sub>3</sub>OH", "absorption"]
text_line(cap16, L, R, 782, CAP, nbold=2)
text_line(cap17, L, R, 1462, CAP, nbold=2)
text_line(cap18a, L, R, 2145, CAP, nbold=2)
text_line(["feature."], L, R, 2174, CAP, justify=False)

BODY = 33
LINE = 38.6
left_col = [
    ["YSO", "Y3", "also", "has", "prominent", "CH<sub>4</sub>,", "NH<sub>3</sub>,", "CH<sub>3</sub>OH,"],
    ["CH<sub>3</sub>OCHO,", "and", "CO<sub>2</sub>", "ice", "absorption", "features.", "Together", "with"],
    ["weak", "PAH", "emission", "at", "11.2\u2009<i>\u03bc</i>m", "and", "the", "lowest", "number", "of"],
    ["narrow", "emission", "lines", "in", "comparison", "to", "Y1,", "Y2,", "Y4,", "Y6,", "and"],
    ["Y9,", "this", "makes", "Y3", "the", "youngest", "protostar", "in", "this", "study.", "PAH"],
    ["emission", "as", "well", "as", "fine-structure", "line", "emission", "(such", "as", "from"],
]
right_col = [
    ["neon", "and", "sulfur,", "which", "are", "observed", "in", "Y3)", "can", "be", "due", "to", "the"],
    ["central", "ionizing", "source,", "or", "alternatively,", "they", "can", "also", "be"],
    ["excited", "due", "to", "neighboring", "massive", "stars.", "Y9", "is", "slightly", "older"],
    ["than", "Y3,", "with", "a", "weak", "CO<sub>2</sub>", "doublet", "feature.", "YSOs", "Y1,", "Y2,", "and"],
    ["Y4", "have", "broad", "silicate", "absorption", "features", "at", "9.5\u2009<i>\u03bc</i>m.", "It", "is"],
    ["difficult", "to", "disentangle", "the", "silicate", "absorption", "from", "the", "PAH"],
]
for k, words in enumerate(left_col):
    text_line(words, 144, 984, 2264 + LINE * k, BODY, indent=33 if k == 0 else 0)
for k, words in enumerate(right_col):
    text_line(words, 1065, 1905, 2264 + LINE * k, BODY)

anns.append(dict(text="22", xref="paper", yref="paper", x=fx(1024), y=fy(2538),
                 xanchor="center", yanchor="middle", showarrow=False,
                 font=dict(family=SERIF, size=31, color="black")))

layout["annotations"] = anns
layout["shapes"] = shapes
fig.update_layout(**layout)
fig.write_html("out.html", config={"displayModeBar": False},
               post_script="document.body.style.margin='0';"
                           "document.documentElement.style.overflow='hidden';")
